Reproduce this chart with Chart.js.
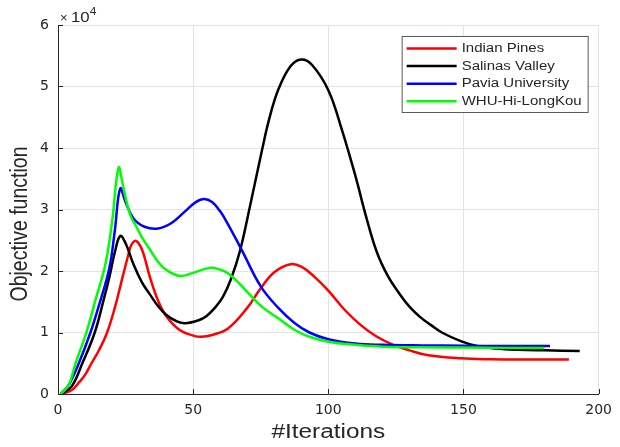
<!DOCTYPE html>
<html>
<head>
<meta charset="utf-8">
<script src="https://cdn.jsdelivr.net/npm/chart.js@4.4.1/dist/chart.umd.min.js"></script>
<style>
html, body { margin: 0; padding: 0; background: #fff; }
#wrap { width: 620px; height: 447px; position: relative; }
</style>
</head>
<body>
<div id="wrap"><canvas id="c"></canvas></div>
<script>
// axis ticks (objective values are in units of 10^4)
const xTicks = [0, 50, 100, 150, 200];
const yTicks = [0, 1, 2, 3, 4, 5, 6];

const seriesNames = ['Indian Pines', 'Salinas Valley', 'Pavia University', 'WHU-Hi-LongKou'];
const seriesColors = ['#ff0000', '#000000', '#0000ff', '#00ff00'];

// Indian Pines
const ipX = [1, 5, 8, 10, 12.4, 15, 18, 21, 24, 26, 27, 28.5, 30, 31.5, 34, 37, 40, 45, 50, 53, 57, 63, 70, 75, 80, 86, 90, 95, 100, 106, 112, 118, 124, 130, 137, 149, 160, 175, 189];
const ipY = [0, 0.06, 0.2, 0.31, 0.5, 0.7, 0.98, 1.4, 1.92, 2.26, 2.41, 2.49, 2.44, 2.3, 1.9, 1.52, 1.27, 1.04, 0.95, 0.93, 0.96, 1.07, 1.4, 1.72, 1.98, 2.11, 2.07, 1.9, 1.68, 1.37, 1.12, 0.93, 0.8, 0.71, 0.63, 0.58, 0.565, 0.56, 0.56];

// Salinas Valley
const svX = [1, 5, 9, 13.6, 17, 19, 21, 23, 25, 28, 31, 34, 37, 40, 44, 47, 52, 55, 58, 61, 64, 67.4, 71, 75.4, 78, 81.5, 86, 90, 94, 100, 105, 110, 114, 118, 122, 126, 130, 134, 138, 142, 149, 155, 162, 170, 180, 193];
const svY = [0, 0.12, 0.5, 1.0, 1.55, 1.9, 2.3, 2.57, 2.45, 2.1, 1.82, 1.62, 1.43, 1.29, 1.18, 1.15, 1.2, 1.27, 1.4, 1.58, 1.87, 2.34, 3.05, 3.95, 4.45, 4.95, 5.33, 5.44, 5.35, 4.94, 4.3, 3.55, 2.88, 2.3, 1.92, 1.65, 1.42, 1.25, 1.12, 1.0, 0.86, 0.78, 0.74, 0.72, 0.71, 0.70];

// Pavia University
const puX = [1, 4, 7.7, 12, 15, 19, 21, 23, 25, 28, 32, 37, 42, 47, 51, 54, 57, 60, 63, 68, 75, 81.5, 87.6, 93, 100, 110, 120, 135, 150, 165, 182];
const puY = [0, 0.15, 0.5, 1.0, 1.42, 2.05, 2.65, 3.34, 3.12, 2.85, 2.72, 2.69, 2.78, 2.97, 3.12, 3.17, 3.12, 2.97, 2.75, 2.34, 1.75, 1.4, 1.15, 1.0, 0.89, 0.82, 0.8, 0.79, 0.785, 0.78, 0.78];

// WHU-Hi-LongKou
const whX = [1, 4, 6.5, 10.5, 14, 17.5, 20, 22.4, 24, 25.5, 27, 29, 31, 34, 37, 40, 45, 50, 56, 60, 63, 67, 70, 75.4, 81.5, 87.6, 93, 100, 110, 120, 135, 150, 165, 180];
const whY = [0, 0.15, 0.5, 1.0, 1.55, 2.1, 2.8, 3.68, 3.4, 3.1, 2.88, 2.72, 2.55, 2.35, 2.15, 2.02, 1.92, 1.97, 2.05, 2.02, 1.96, 1.8, 1.66, 1.42, 1.23, 1.04, 0.93, 0.85, 0.8, 0.77, 0.76, 0.755, 0.75, 0.75];

const seriesX = [ipX, svX, puX, whX];
const seriesY = [ipY, svY, puY, whY];

const TEXT_COLOR = '#262626';
const AXIS_COLOR = '#262626';
const GRID_COLOR = '#e3e3e3';

const toPoints = (xs, ys) => xs.map((x, i) => ({ x, y: ys[i] }));

// ticks drawn inward, titles, x10^4 and the legend box
const decorPlugin = {
    id: 'decor',
    afterDraw(chart) {
        const ctx = chart.ctx;
        const a = chart.chartArea;
        const sx = chart.scales.x, sy = chart.scales.y;
        ctx.save();

        ctx.strokeStyle = AXIS_COLOR;
        ctx.lineWidth = 1;
        ctx.beginPath();
        xTicks.forEach(v => {
            const px = Math.round(sx.getPixelForValue(v)) + 0.5;
            ctx.moveTo(px, a.bottom);
            ctx.lineTo(px, a.bottom - 5);
        });
        yTicks.forEach(v => {
            const py = Math.round(sy.getPixelForValue(v)) + 0.5;
            ctx.moveTo(a.left, py);
            ctx.lineTo(a.left + 5, py);
        });
        ctx.stroke();

        ctx.fillStyle = TEXT_COLOR;
        ctx.textBaseline = 'alphabetic';
        ctx.textAlign = 'left';
        // exponent label
        ctx.font = '13px "Liberation Sans"';
        ctx.fillText('\u00d7', a.left + 2, a.top - 3);
        ctx.save();
        ctx.translate(a.left + 13, a.top - 3);
        ctx.scale(1.2, 1);
        ctx.font = '14px "Liberation Sans"';
        ctx.fillText('10', 0, 0);
        ctx.font = '10px "Liberation Sans"';
        ctx.fillText('4', 15.6, -7);
        ctx.restore();

        // axis titles
        ctx.font = '19.5px "Liberation Sans"';
        ctx.textAlign = 'center';
        ctx.textBaseline = 'middle';
        ctx.save();
        ctx.translate((a.left + a.right) / 2, 433);
        ctx.scale(1.25, 1);
        ctx.fillText('#Iterations', 0, 0);
        ctx.restore();
        ctx.save();
        ctx.translate(20, 224);
        ctx.rotate(-Math.PI / 2);
        ctx.scale(1, 1.25);
        ctx.fillText('Objective function', 0, 0);
        ctx.restore();

        // legend
        const bx = a.right - 197, by = a.top + 11, bw = 186, bh = 76;
        ctx.fillStyle = '#ffffff';
        ctx.fillRect(bx, by, bw, bh);
        ctx.strokeStyle = '#5a5a5a';
        ctx.lineWidth = 1;
        ctx.strokeRect(bx + 0.5, by + 0.5, bw, bh);
        chart.data.datasets.forEach((ds, i) => {
            const ry = by + 12.5 + i * 17.6;
            ctx.strokeStyle = ds.borderColor;
            ctx.lineWidth = 2.5;
            ctx.beginPath();
            ctx.moveTo(bx + 5, ry);
            ctx.lineTo(bx + 55, ry);
            ctx.stroke();
            ctx.save();
            ctx.translate(bx + 60, ry);
            ctx.scale(1.2, 1);
            ctx.fillStyle = TEXT_COLOR;
            ctx.font = '12.5px "Liberation Sans"';
            ctx.textAlign = 'left';
            ctx.textBaseline = 'middle';
            ctx.fillText(ds.label, 0, 0);
            ctx.restore();
        });
        ctx.restore();
    }
};

const ctx = document.getElementById('c').getContext('2d');
new Chart(ctx, {
    type: 'line',
    data: {
        datasets: seriesNames.map((name, i) => ({
            label: name,
            data: toPoints(seriesX[i], seriesY[i]),
            borderColor: seriesColors[i],
            backgroundColor: 'transparent',
            borderWidth: 2.5,
            pointRadius: 0,
            tension: 0.4,
            order: seriesNames.length - i
        }))
    },
    options: {
        animation: false,
        responsive: true,
        maintainAspectRatio: false,
        layout: { padding: { top: 25, right: 17, left: 0, bottom: 0 } },
        scales: {
            x: {
                type: 'linear',
                min: 0, max: 200,
                afterBuildTicks: s => { s.ticks = xTicks.map(v => ({ value: v })); },
                afterFit: s => { s.height = 53; },
                ticks: { color: TEXT_COLOR, padding: 8, font: { family: 'DejaVu Sans', size: 14 } },
                grid: { color: GRID_COLOR, drawTicks: false },
                border: { display: true, color: AXIS_COLOR, width: 1 }
            },
            y: {
                min: 0, max: 6,
                afterBuildTicks: s => { s.ticks = yTicks.map(v => ({ value: v })); },
                afterFit: s => { s.width = 58; },
                ticks: { color: TEXT_COLOR, padding: 9, font: { family: 'DejaVu Sans', size: 14 } },
                grid: { color: GRID_COLOR, drawTicks: false },
                border: { display: true, color: AXIS_COLOR, width: 1 }
            }
        },
        plugins: {
            legend: { display: false },
            tooltip: { enabled: false }
        }
    },
    plugins: [decorPlugin]
});
</script>
</body>
</html>
